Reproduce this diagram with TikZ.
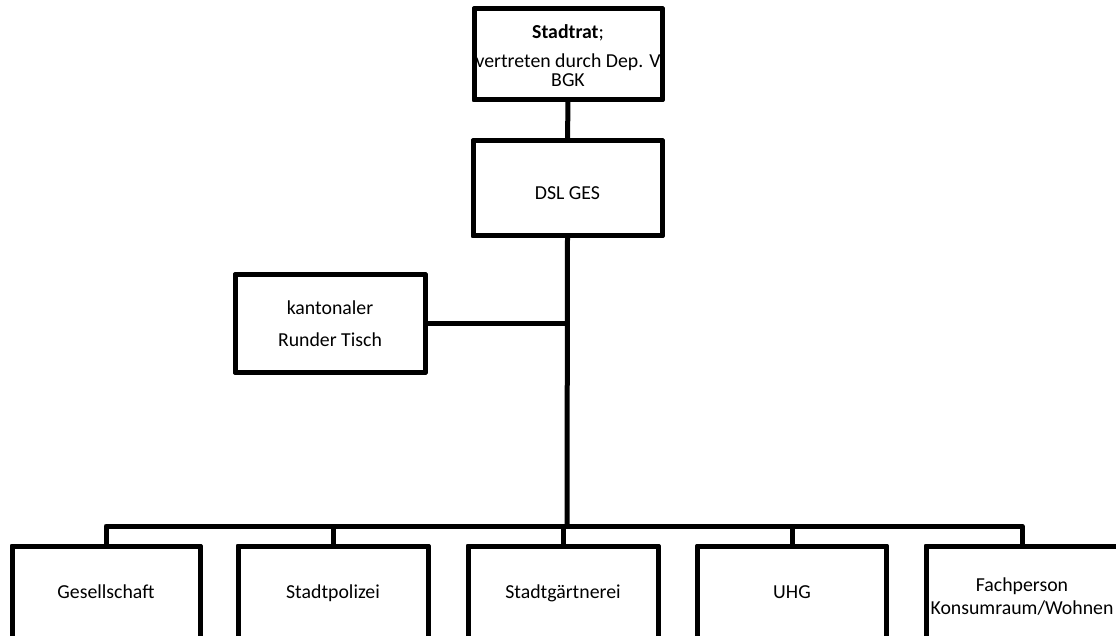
\documentclass[tikz,border=0pt]{standalone}
\usepackage{fontspec}
\setmainfont{Carlito}
\begin{document}
\begin{tikzpicture}[x=1pt,y=-1pt,
  box/.style={draw=black,line width=5pt,line join=round,fill=white,inner sep=0pt,outer sep=0pt},
  conn/.style={draw=black,line width=5pt},
  thinconn/.style={draw=black,line width=4.5pt},
  lbl/.style={anchor=base,inner sep=0pt,font=\fontsize{19.8}{22}\selectfont}]
\useasboundingbox (0,0) rectangle (1116,636);
\clip (0,0) rectangle (1116,636);
% boxes
\node[box,minimum width=188pt,minimum height=91pt] (top) at (568,54.5) {};
\node[box,minimum width=189pt,minimum height=95pt] (dsl) at (567.5,188.5) {};
\node[box,minimum width=190pt,minimum height=97pt] (rt) at (330,323.5) {};
\node[box,minimum width=188pt,minimum height=154pt] (b1) at (106,623) {};
\node[box,minimum width=190pt,minimum height=154pt] (b2) at (333,623) {};
\node[box,minimum width=190pt,minimum height=154pt] (b3) at (563,623) {};
\node[box,minimum width=189pt,minimum height=154pt] (b4) at (792,623) {};
\node[box,minimum width=192pt,minimum height=154pt] (b5) at (1022,623) {};
% connectors
\coordinate (busc) at (567,526);
\draw[conn] (top.south) -- (dsl.north);
\draw[conn] (dsl.south) -- (busc);
\draw[thinconn] (rt.east) -- (rt.east -| dsl.south);
\draw[conn,line join=round] (b1.north) -- (b1.north |- busc) -- (b5.north |- busc) -- (b5.north);
\draw[conn] (b2.north) -- (b2.north |- busc);
\draw[conn] (b3.north) -- (b3.north |- busc);
\draw[conn] (b4.north) -- (b4.north |- busc);
% redraw box borders over connector ends
\foreach \n in {top,dsl,rt,b1,b2,b3,b4,b5}{\draw[line width=5pt,line join=round] (\n.north west) rectangle (\n.south east);}
% texts
\begin{scope}
\clip (top.north west) rectangle (top.south east);
\node[lbl] (t1) at (568,38.5) {\textbf{Stadtrat};};
\node[lbl] (t2) at (568,67.5) {vertreten durch Dep. V};
\node[lbl] (t3) at (568,87) {BGK};
\end{scope}
\node[lbl] (d1) at (567.5,199.5) {DSL GES};
\node[lbl] (r1) at (330,314.5) {kantonaler};
\node[lbl] (r2) at (330,346.5) {Runder Tisch};
\node[lbl] (l1) at (106,598.5) {Gesellschaft};
\node[lbl] (l2) at (333,598.5) {Stadtpolizei};
\node[lbl] (l3) at (563,598.5) {Stadtgärtnerei};
\node[lbl] (l4) at (792,598.5) {UHG};
\node[lbl] (l5a) at (1022,591.5) {Fachperson};
\node[lbl] (l5b) at (1022,614.5) {Konsumraum/Wohnen};
\end{tikzpicture}
\end{document}
